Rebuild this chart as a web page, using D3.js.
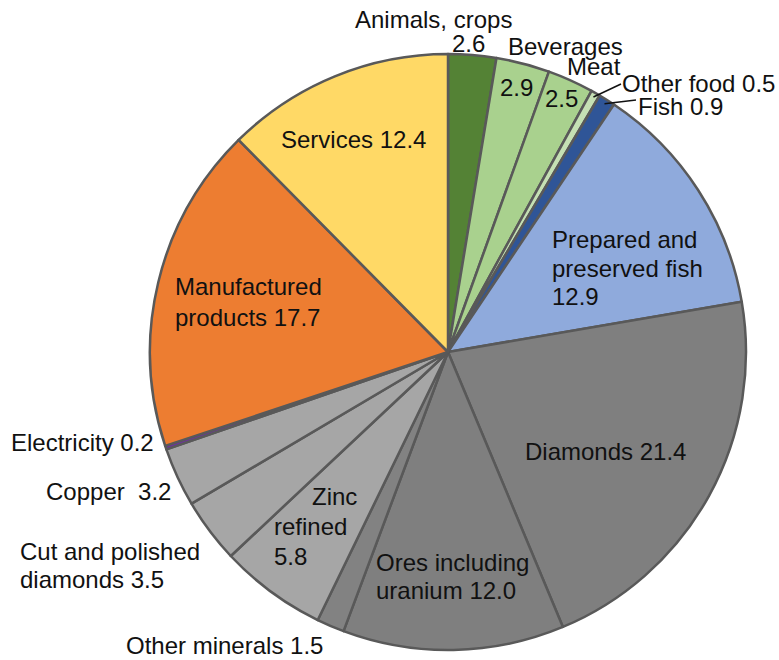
<!DOCTYPE html>
<html>
<head>
<meta charset="utf-8">
<script src="https://cdn.jsdelivr.net/npm/d3@7/dist/d3.min.js"></script>
<style>
  html, body { margin: 0; padding: 0; background: #fff; }
  svg { display: block; }
  text { font-family: "Liberation Sans", Arial, Helvetica, sans-serif; fill: #111; white-space: pre; }
</style>
</head>
<body>
<svg id="chart" width="779" height="660"></svg>
<script>
// Export shares (%) in clockwise order from 12 o'clock
const categories = [
  "Animals, crops", "Beverages", "Meat", "Other food", "Fish",
  "Prepared and preserved fish", "Diamonds", "Ores including uranium",
  "Other minerals", "Zinc refined", "Cut and polished diamonds", "Copper",
  "Electricity", "Manufactured products", "Services"
];
const values = [2.6, 2.9, 2.5, 0.5, 0.9, 12.9, 21.4, 12.0, 1.5, 5.8, 3.5, 3.2, 0.2, 17.7, 12.4];
const colors = [
  "#548235", "#a9d18e", "#a9d18e", "#c5e0b4", "#2f5597",
  "#8faadc", "#7f7f7f", "#7f7f7f", "#828282", "#a6a6a6", "#a6a6a6", "#a6a6a6",
  "#7030a0", "#ed7d31", "#ffd966"
];

// Label text lines per slice; the value is filled in from `values`
const labelLines = [
  ["Animals, crops", "{v}"], ["Beverages"], ["Meat"], ["Other food {v}"], ["Fish {v}"],
  ["Prepared and", "preserved fish", "{v}"], ["Diamonds {v}"], ["Ores including", "uranium {v}"],
  ["Other minerals {v}"], ["Zinc", "refined", "{v}"], ["Cut and polished", "diamonds {v}"],
  ["Copper  {v}"], ["Electricity {v}"], ["Manufactured", "products {v}"], ["Services {v}"]
];
// Values shown separately inside the narrow green wedges
const innerValueFor = { "Beverages": [52, -256], "Meat": [97, -245] };

// Label placement (first baseline relative to pie centre, per-line x offsets)
const labelLayout = {
  "Animals, crops": { x: -93, y: -324, dx: [0, 97], dy: 24 },
  "Beverages": { x: 60, y: -297 },
  "Meat": { x: 119, y: -277 },
  "Other food": { x: 174, y: -260 },
  "Fish": { x: 190, y: -237 },
  "Prepared and preserved fish": { x: 104, y: -104, dy: 28.5 },
  "Diamonds": { x: 77, y: 108 },
  "Ores including uranium": { x: -72, y: 219, dy: 28 },
  "Other minerals": { x: -322, y: 302 },
  "Zinc refined": { x: -174, y: 153, dx: [38, 0, 0], dy: 30 },
  "Cut and polished diamonds": { x: -428, y: 208, dy: 28 },
  "Copper": { x: -402, y: 148 },
  "Electricity": { x: -437, y: 99 },
  "Manufactured products": { x: -273, y: -57, dy: 31 },
  "Services": { x: -167, y: -204 }
};
const leaders = { "Other food": [173, -268], "Fish": [188, -252] };

const svg = d3.select("#chart");
const cx = 448, cy = 352, radius = 298;
const g = svg.append("g").attr("transform", `translate(${cx},${cy})`);

const data = categories.map((c, i) => ({ name: c, value: values[i], color: colors[i], lines: labelLines[i] }));
const pie = d3.pie().value(d => d.value).sort(null).startAngle(0).endAngle(2 * Math.PI);
const arc = d3.arc().innerRadius(0).outerRadius(radius);
const arcs = pie(data);

g.selectAll("path.slice")
  .data(arcs)
  .join("path")
  .attr("class", "slice")
  .attr("d", arc)
  .attr("fill", d => d.data.color)
  .attr("stroke", "#595959")
  .attr("stroke-width", 2.5)
  .attr("stroke-linejoin", "round");

// Leader lines for the thin slices
arcs.filter(d => leaders[d.data.name]).forEach(d => {
  const mid = (d.startAngle + d.endAngle) / 2;
  const r0 = radius * 0.985;
  const x0 = r0 * Math.sin(mid), y0 = -r0 * Math.cos(mid);
  const [x1, y1] = leaders[d.data.name];
  g.append("line")
    .attr("x1", x0).attr("y1", y0).attr("x2", x1).attr("y2", y1)
    .attr("stroke", "#111").attr("stroke-width", 1.5);
});

const fontSize = 24;
const fmt = d3.format(".1f");
arcs.forEach(d => {
  const lay = labelLayout[d.data.name];
  if (!lay) return;
  const t = g.append("text").attr("font-size", fontSize).attr("xml:space", "preserve");
  d.data.lines.forEach((ln, i) => {
    t.append("tspan")
      .attr("x", lay.x + (lay.dx ? lay.dx[i] : 0))
      .attr("y", lay.y + i * (lay.dy || 28))
      .text(ln.replace("{v}", fmt(d.data.value)));
  });
  const inner = innerValueFor[d.data.name];
  if (inner) {
    g.append("text").attr("font-size", fontSize)
      .attr("x", inner[0]).attr("y", inner[1])
      .text(fmt(d.data.value));
  }
});
</script>
</body>
</html>
